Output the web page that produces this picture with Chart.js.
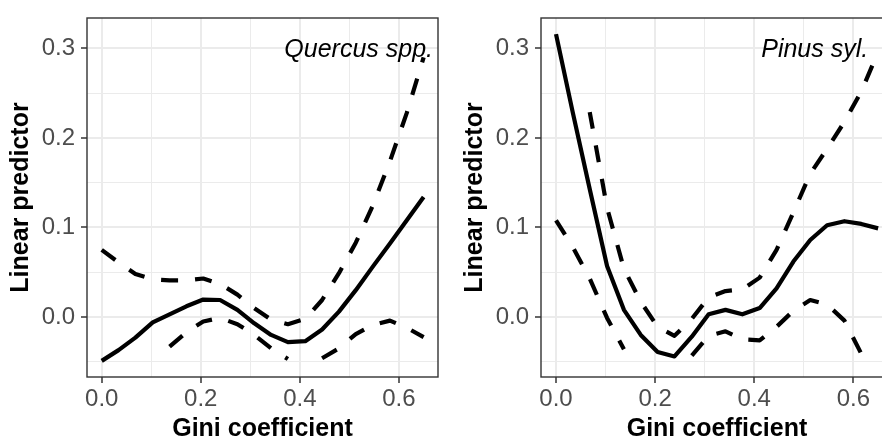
<!DOCTYPE html>
<html lang="en">
<head>
<meta charset="UTF-8">
<title>Linear predictor vs Gini coefficient</title>
<script src="https://cdn.jsdelivr.net/npm/chart.js"></script>
<style>
  html, body { margin: 0; padding: 0; background: #fff; }
  #wrap { position: relative; width: 882px; height: 439px; overflow: hidden; }
  .panel { position: absolute; top: 0; height: 439px; }
</style>
</head>
<body>
<div id="wrap">
  <div class="panel" style="left:0;width:441px"><canvas id="quercus" width="441" height="439"></canvas></div>
  <div class="panel" style="left:441px;width:453px"><canvas id="pinus" width="453" height="439"></canvas></div>
</div>
<script>
// Gini coefficient values where the smooth terms were evaluated
const gini = [0, 0.034, 0.068, 0.103, 0.137, 0.171, 0.205, 0.239, 0.274, 0.308,
              0.342, 0.376, 0.411, 0.445, 0.479, 0.513, 0.547, 0.582, 0.616, 0.65];

// Quercus spp.: fit and confidence band (null = outside the plotted range)
const quercusFit   = [-0.049, -0.037, -0.023, -0.006, 0.003, 0.012, 0.0195, 0.019, 0.008, -0.007,
                      -0.020, -0.028, -0.027, -0.014, 0.006, 0.030, 0.056, 0.082, 0.108, 0.134];
const quercusUpper = [0.075, 0.061, 0.048, 0.042, 0.041, 0.041, 0.043, 0.037, 0.025, 0.010,
                      -0.003, -0.008, -0.002, 0.019, 0.049, 0.083, 0.124, 0.174, 0.228, 0.290];
const quercusLower = [null, null, null, null, -0.033, -0.017, -0.005, -0.001, -0.008, -0.020,
                      -0.035, -0.047, null, -0.046, -0.035, -0.019, -0.009, -0.004, -0.012, -0.0225];

// Pinus sylvestris
const pinusFit   = [0.316, 0.228, 0.143, 0.057, 0.008, -0.020, -0.039, -0.044, -0.022, 0.003,
                    0.008, 0.003, 0.010, 0.032, 0.062, 0.086, 0.1025, 0.107, 0.104, 0.099];
const pinusUpper = [null, null, 0.229, 0.122, 0.054, 0.017, -0.011, -0.021, -0.002, 0.022,
                    0.029, 0.031, 0.044, 0.075, 0.117, 0.160, 0.188, 0.218, 0.252, 0.296];
const pinusLower = [0.108, 0.078, 0.043, -0.001, -0.036, null, null, null, -0.043, -0.021,
                    -0.016, -0.025, -0.026, -0.011, 0.007, 0.019, 0.014, -0.004, -0.041, null];

// axis ticks (blank label = minor grid line)
const xTicks = [0, 0.1, 0.2, 0.3, 0.4, 0.5, 0.6];
const xTickLabels = ['0.0', '', '0.2', '', '0.4', '', '0.6'];
const yTicks = [-0.05, 0, 0.05, 0.1, 0.15, 0.2, 0.25, 0.3];
const yTickLabels = ['', '0.0', '', '0.1', '', '0.2', '', '0.3'];

const FONT = '"Liberation Sans", Arial, sans-serif';
Chart.defaults.font.family = FONT;

const panelBorder = {
  id: 'panelBorder',
  afterDraw(chart) {
    const {ctx, chartArea: a} = chart;
    ctx.save();
    ctx.strokeStyle = '#333333';
    ctx.lineWidth = 1.4;
    ctx.strokeRect(a.left, a.top, a.right - a.left, a.bottom - a.top);
    ctx.restore();
  }
};

const panelLabel = {
  id: 'panelLabel',
  afterDatasetsDraw(chart, args, opts) {
    const {ctx, scales} = chart;
    ctx.save();
    ctx.font = 'italic 25px ' + FONT;
    ctx.fillStyle = '#000';
    ctx.textAlign = 'right';
    ctx.textBaseline = 'alphabetic';
    ctx.fillText(opts.text, scales.x.getPixelForValue(opts.x), scales.y.getPixelForValue(opts.y));
    ctx.restore();
  }
};

function line(values, dashed) {
  return {
    data: gini.map((g, i) => ({x: g, y: values[i]})),
    borderColor: '#000',
    borderWidth: 4.2,
    borderDash: dashed ? [17, 17] : [],
    borderJoinStyle: 'round',
    borderCapStyle: 'butt',
    pointRadius: 0,
    tension: 0,
    spanGaps: false,
    clip: 0
  };
}

function makePanel(id, fit, upper, lower, cfg) {
  new Chart(document.getElementById(id), {
    type: 'line',
    data: {datasets: [line(fit, false), line(upper, true), line(lower, true)]},
    options: {
      responsive: false,
      animation: false,
      events: [],
      layout: {padding: {top: 13, right: cfg.padRight, left: 0, bottom: 0}},
      plugins: {
        legend: {display: false},
        tooltip: {enabled: false},
        panelLabel: {text: cfg.label, x: cfg.labelX, y: 0.29}
      },
      scales: {
        x: {
          type: 'linear',
          min: cfg.xMin,
          max: cfg.xMax,
          afterBuildTicks: s => { s.ticks = xTicks.map(v => ({value: v})); },
          afterFit: s => { s.height = 62; },
          ticks: {
            autoSkip: false, maxRotation: 0, padding: 4,
            color: '#4D4D4D', font: {size: 24, lineHeight: 1},
            callback: (v, i) => xTickLabels[i]
          },
          grid: {
            color: '#EBEBEB',
            lineWidth: c => xTickLabels[c.index] ? 2 : 1,
            tickLength: 6,
            tickWidth: 1.5,
            tickColor: c => xTickLabels[c.index] ? '#333333' : 'rgba(0,0,0,0)'
          },
          border: {display: false},
          title: {
            display: true, text: 'Gini coefficient', color: '#000',
            font: {size: 25, weight: 'bold', lineHeight: 0.8},
            padding: {top: 0, bottom: 0}
          }
        },
        y: {
          type: 'linear',
          min: -0.067,
          max: 0.334,
          afterBuildTicks: s => { s.ticks = yTicks.map(v => ({value: v})); },
          afterFit: s => { s.width = cfg.yWidth; },
          ticks: {
            autoSkip: false, padding: 6,
            color: '#4D4D4D', font: {size: 24, lineHeight: 1},
            callback: (v, i) => yTickLabels[i]
          },
          grid: {
            color: '#EBEBEB',
            lineWidth: c => yTickLabels[c.index] ? 2 : 1,
            tickLength: 6,
            tickWidth: 1.5,
            tickColor: c => yTickLabels[c.index] ? '#333333' : 'rgba(0,0,0,0)'
          },
          border: {display: false},
          title: {
            display: true, text: 'Linear predictor', color: '#000',
            font: {size: 25, weight: 'bold', lineHeight: 1.2},
            padding: {top: cfg.yTitlePad, bottom: 0}
          }
        }
      }
    },
    plugins: [panelLabel, panelBorder]
  });
}

makePanel('quercus', quercusFit, quercusUpper, quercusLower,
  {label: 'Quercus spp.', labelX: 0.669, xMin: -0.0297, xMax: 0.679, yWidth: 87, yTitlePad: 6, padRight: 3});
makePanel('pinus', pinusFit, pinusUpper, pinusLower,
  {label: 'Pinus syl.', labelX: 0.630, xMin: -0.0303, xMax: 0.680, yWidth: 100, yTitlePad: 19, padRight: 1});
</script>
</body>
</html>
